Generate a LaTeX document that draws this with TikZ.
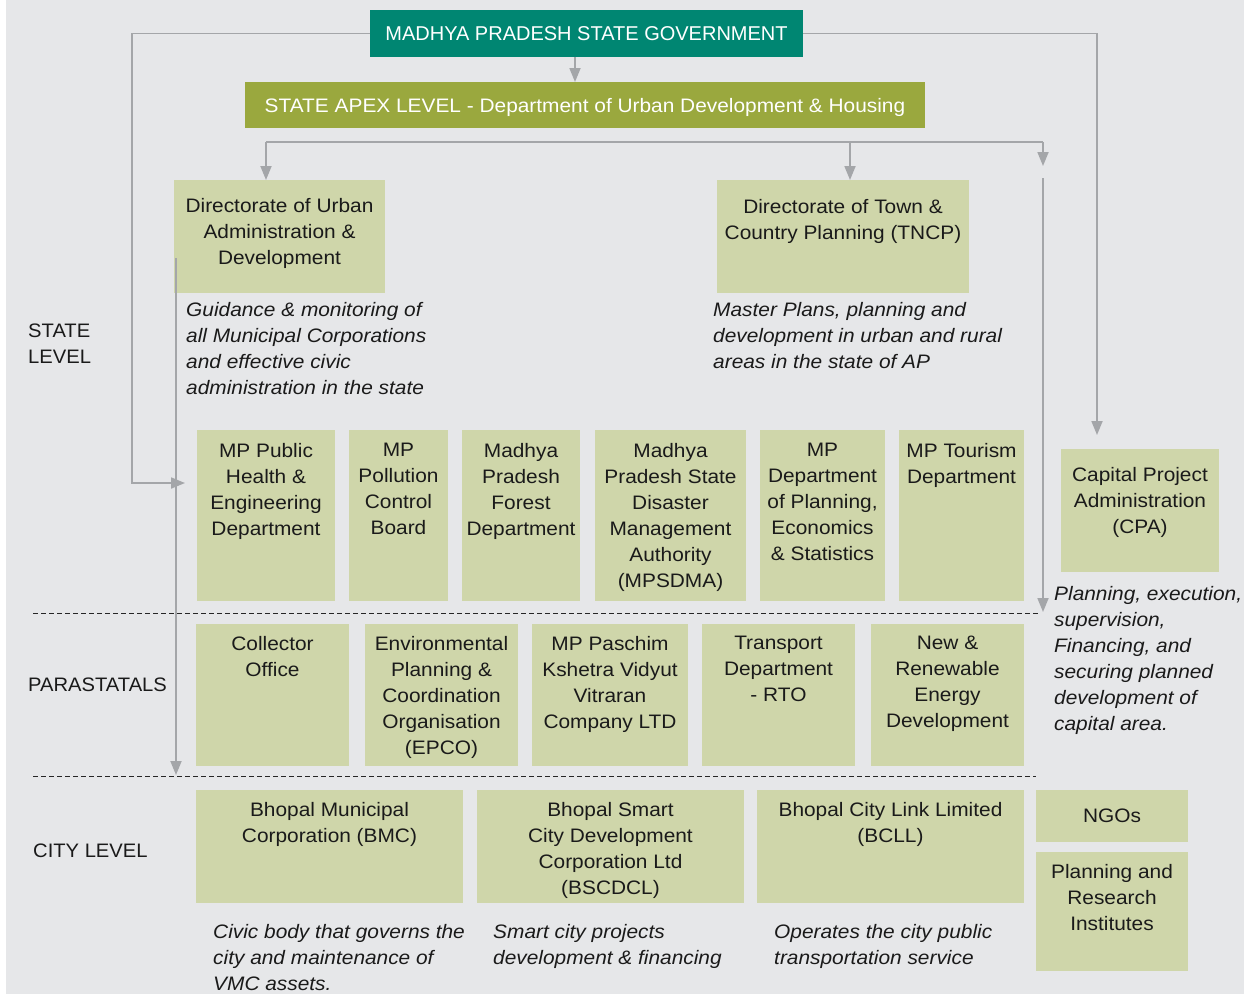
\documentclass[tikz,border=0pt]{standalone}
\usepackage{fontspec}
\setmainfont[FakeStretch=1.07]{Liberation Sans}
\newfontfamily\headfont{Liberation Sans}
\newfontfamily\labfont[FakeStretch=1.035]{Liberation Sans}
\usetikzlibrary{arrows.meta}
\definecolor{bgc}{HTML}{E6E7E9}
\definecolor{govc}{HTML}{008672}
\definecolor{apexc}{HTML}{9AA83E}
\definecolor{boxc}{HTML}{CFD6AA}
\definecolor{linec}{HTML}{A4A6A9}
\definecolor{txtc}{HTML}{1A1A1A}
\newcommand\obox[7]{%
  \node[boxfill, minimum width={(#4-#2)*1pt}, minimum height={(#5-#3)*1pt}] (#1) at (#2,#3) {};
  \node[btxt] (#1-t) at ({(#2+#4)/2},{#6-7.2}) {#7};
}
\begin{document}
\begin{tikzpicture}[x=1pt,y=-1pt,
  boxfill/.style={fill=boxc, inner sep=0, outer sep=0, anchor=north west, draw=none},
  btxt/.style={anchor=north, align=center, inner sep=0, text=txtc, font=\fontsize{19.5}{26}\selectfont, execute at begin node=\strut},
  desc/.style={anchor=north west, align=left, inner sep=0, text=txtc, font=\fontsize{19.5}{26}\selectfont\itshape, execute at begin node=\strut},
  lvl/.style={anchor=north west, align=left, inner sep=0, text=txtc, font=\labfont\fontsize{19.5}{26}\selectfont, execute at begin node=\strut},
  conn/.style={draw=linec, line width=1.8pt, -{Triangle[width=11pt,length=14pt]}},
  plain/.style={draw=linec, line width=1.8pt},
  dashl/.style={draw=black!85, line width=0.9pt, dash pattern=on 5pt off 3pt},
  head/.style={inner sep=0, outer sep=0, anchor=north west, text=white}
]
\fill[white] (0,0) rectangle (1244,994);
\fill[bgc] (6,0) rectangle (1244,994);
\useasboundingbox (0,0) rectangle (1244,994);

% top boxes
\node[head, fill=govc, minimum width=433pt, minimum height=47pt, font=\headfont\fontsize{20}{24}\selectfont] (gov) at (370,10) {MADHYA PRADESH STATE GOVERNMENT};
\node[head, fill=apexc, minimum width=680pt, minimum height=46pt, text depth=0pt, text height=14pt, font=\fontsize{19.5}{24}\selectfont] (apex) at (245,82) {STATE APEX LEVEL - Department of Urban Development \& Housing};

% directorates
\obox{duad}{174}{180}{385}{293}{205}{Directorate of Urban\\Administration \&\\Development}
\obox{tncp}{717}{180}{969}{293}{206}{Directorate of Town \&\\Country Planning (TNCP)}

\node[desc] (duad-d) at (186,{309-7.2}) {Guidance \& monitoring of\\all Municipal Corporations\\and effective civic\\administration in the state};
\node[desc] (tncp-d) at (713,{309-7.2}) {Master Plans, planning and\\development in urban and rural\\areas in the state of AP};

% state row
\obox{s1}{197}{430}{335}{601}{450}{MP Public\\Health \&\\Engineering\\Department}
\obox{s2}{349}{430}{448}{601}{450}{MP\\Pollution\\Control\\Board}
\obox{s3}{462}{430}{580}{601}{450}{Madhya\\Pradesh\\Forest\\Department}
\obox{s4}{595}{430}{746}{601}{450}{Madhya\\Pradesh State\\Disaster\\Management\\Authority\\(MPSDMA)}
\obox{s5}{760}{430}{885}{601}{450}{MP\\Department\\of Planning,\\Economics\\\& Statistics}
\obox{s6}{899}{430}{1024}{601}{450}{MP Tourism\\Department}
\obox{cpa}{1061}{449}{1219}{572}{474}{Capital Project\\Administration\\(CPA)}
\node[desc] (cpa-d) at (1054,{593-7.2}) {Planning, execution,\\supervision,\\Financing, and\\securing planned\\development of\\capital area.};

% parastatals
\obox{p1}{196}{624}{349}{766}{643}{Collector\\Office}
\obox{p2}{365}{624}{518}{766}{643}{Environmental\\Planning \&\\Coordination\\Organisation\\(EPCO)}
\obox{p3}{532}{624}{688}{766}{643}{MP Paschim\\Kshetra Vidyut\\Vitraran\\Company LTD}
\obox{p4}{702}{624}{855}{766}{643}{Transport\\Department\\- RTO}
\obox{p5}{871}{624}{1024}{766}{643}{New \&\\Renewable\\Energy\\Development}

% city
\obox{c1}{196}{790}{463}{903}{809}{Bhopal Municipal\\Corporation (BMC)}
\obox{c2}{477}{790}{744}{903}{809}{Bhopal Smart\\City Development\\Corporation Ltd\\(BSCDCL)}
\obox{c3}{757}{790}{1024}{903}{809}{Bhopal City Link Limited\\(BCLL)}
\obox{ngo}{1036}{790}{1188}{842}{811}{NGOs}
\obox{pri}{1036}{852}{1188}{971}{871}{Planning and\\Research\\Institutes}
\node[desc] (c1-d) at (213,{931-7.2}) {Civic body that governs the\\city and maintenance of\\VMC assets.};
\node[desc] (c2-d) at (493,{931-7.2}) {Smart city projects\\development \& financing};
\node[desc] (c3-d) at (774,{931-7.2}) {Operates the city public\\transportation service};

% level labels
\node[lvl] (lstate) at (28,{331-7.2}) {STATE\\LEVEL};
\node[lvl] (lpara) at (28,{680-7.2}) {PARASTATALS};
\node[lvl] (lcity) at (33,{846-7.2}) {CITY LEVEL};

% dashed separators
\coordinate (d1a) at (33,613); \coordinate (d1b) at (1040,613);
\coordinate (d2a) at (33,776); \coordinate (d2b) at (1036,776);
\draw[dashl] (d1a) -- (d1b);
\draw[dashl] (d2a) -- (d2b);

% connectors
\coordinate (gl) at (132,33.5); \coordinate (gl2) at (132,483); \coordinate (gle) at (185,483);
\draw[conn] (gov.west) -- (gl) -- (gl2) -- (gle);
\coordinate (gr) at (1097,33.5); \coordinate (gre) at (1097,435);
\draw[conn] (gov.east) -- (gr) -- (gre);
\draw[conn] ([xshift=205pt]gov.south west) -- ([xshift=330pt]apex.north west);
\coordinate (b1) at (266,142); \coordinate (b2) at (850,142); \coordinate (b3) at (1043,142); \coordinate (b3e) at (1043,166);
\draw[plain] (b1) -- (b3);
\draw[conn] (b1) -- (b1 |- duad.north);
\draw[conn] (b2) -- (b2 |- tncp.north);
\draw[conn] (b3) -- (b3e);
\coordinate (v1s) at (1043,178); \coordinate (v1e) at (1043,612);
\draw[conn] (v1s) -- (v1e);
\coordinate (v2s) at (176,258); \coordinate (v2e) at (176,775);
\draw[conn] (v2s) -- (v2e);
\end{tikzpicture}
\end{document}
